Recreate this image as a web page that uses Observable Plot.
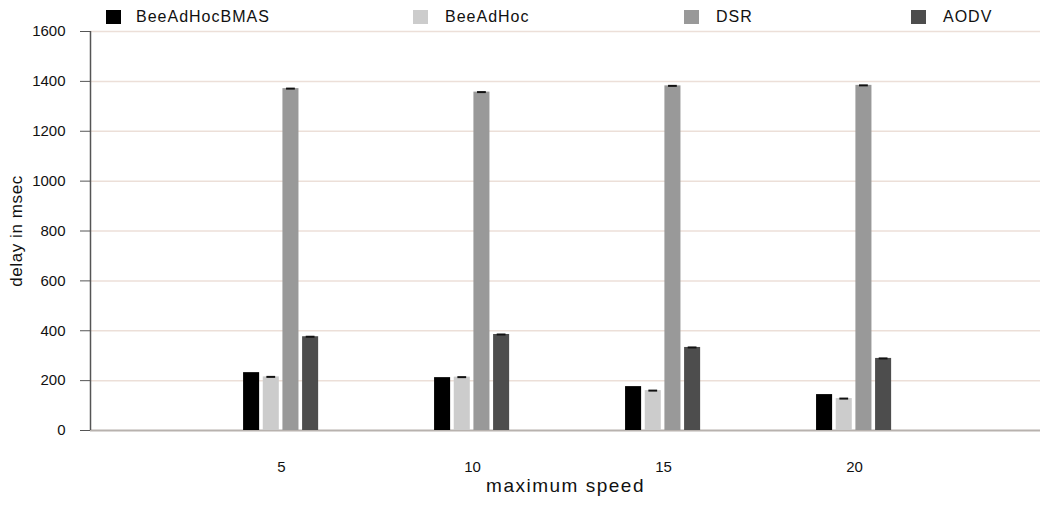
<!DOCTYPE html>
<html>
<head>
<meta charset="utf-8">
<script src="https://cdn.jsdelivr.net/npm/d3@7"></script>
<script src="https://cdn.jsdelivr.net/npm/@observablehq/plot@0.6"></script>
<style>
  html, body { margin: 0; padding: 0; background: #fff; overflow: hidden; }
  #wrap { position: relative; width: 1040px; height: 505px; }
  #legend { position: absolute; left: 0; top: 0; width: 1040px; height: 24px; font-family: "Liberation Sans", Arial, sans-serif; z-index: 2; }
  .sw { position: absolute; top: 10px; width: 15px; height: 14px; }
  .lt { position: absolute; top: 8px; font-size: 16px; line-height: 18px; letter-spacing: 1px; color: #111; }
  svg text { font-family: "Liberation Sans", Arial, sans-serif; }
</style>
</head>
<body>
<div id="wrap">
<div id="legend"></div>
<div id="chart"></div>
</div>
<script>
const speeds = [5, 10, 15, 20];
const protocols = ["BeeAdHocBMAS", "BeeAdHoc", "DSR", "AODV"];
const bmas     = [232, 212, 176, 144];
const beeadhoc = [215, 214, 160, 128];
const dsr      = [1371, 1357, 1382, 1384];
const aodv     = [376, 385, 333, 289];
const yTicks = [0, 200, 400, 600, 800, 1000, 1200, 1400, 1600];
const colors = ["#000000", "#cccccc", "#999999", "#4d4d4d"];

const series = [bmas, beeadhoc, dsr, aodv];
const rows = [];
speeds.forEach((s, j) => protocols.forEach((p, i) => rows.push({speed: s, protocol: p, i, value: series[i][j]})));

const step = 0.515, bw = 0.42, capHalf = 0.115;
const center = d => d.speed + (d.i - 1.5) * step - 0.01;

// legend
const legendPos = [[106, 136], [413, 445], [684, 716], [911, 943]];
const leg = document.getElementById("legend");
protocols.forEach((p, i) => {
  const sw = document.createElement("div");
  sw.className = "sw"; sw.style.left = legendPos[i][0] + "px"; sw.style.background = colors[i];
  const t = document.createElement("div");
  t.className = "lt"; t.style.left = legendPos[i][1] + "px"; t.textContent = p;
  leg.appendChild(sw); leg.appendChild(t);
});

const chart = Plot.plot({
  width: 1040,
  height: 505,
  marginTop: 31,
  marginBottom: 75,
  marginLeft: 90,
  marginRight: 0,
  x: {domain: [0, 24.87], axis: null},
  y: {domain: [0, 1600], axis: null},
  color: {domain: protocols, range: colors},
  marks: [
    Plot.ruleY(yTicks.slice(1), {stroke: "#ecdfd8", strokeWidth: 1.5}),
    Plot.ruleY([0], {stroke: "#b8b2ae", strokeWidth: 2}),
    Plot.rectY(rows, {
      x1: d => center(d) - bw / 2,
      x2: d => center(d) + bw / 2,
      y1: 0, y2: "value",
      fill: "protocol"
    }),
    Plot.ruleY(rows.filter(d => d.i > 0), {
      y: "value",
      x1: d => center(d) - capHalf,
      x2: d => center(d) + capHalf,
      stroke: "#111", strokeWidth: 2
    }),
    Plot.ruleX([0], {y1: 0, y2: 1600, stroke: "#555", strokeWidth: 1.5}),
    Plot.axisY({ticks: yTicks, tickSize: 10, tickPadding: 15, stroke: "#555", fill: "#111",
                fontSize: 15, label: null, tickFormat: d => String(d)}),
    Plot.axisX({ticks: speeds, tickSize: 0, tickPadding: 31, fontSize: 15, fill: "#111", label: null,
                tickFormat: d => String(d)}),
    Plot.text(["delay in msec"], {frameAnchor: "left", text: d => d, rotate: -90, dx: -74,
                fontSize: 17, fill: "#111", textAnchor: "middle"}),
    Plot.text(["maximum speed"], {frameAnchor: "bottom", text: d => d, dy: 61,
                fontSize: 19, fill: "#111", textAnchor: "middle"})
  ]
});
document.getElementById("chart").appendChild(chart);
d3.select(chart).selectAll("text").filter(function() { return this.textContent === "maximum speed"; })
  .style("letter-spacing", "1.5px");
d3.select(chart).selectAll("text").filter(function() { return this.textContent === "delay in msec"; })
  .style("letter-spacing", "0.6px");
</script>
</body>
</html>
